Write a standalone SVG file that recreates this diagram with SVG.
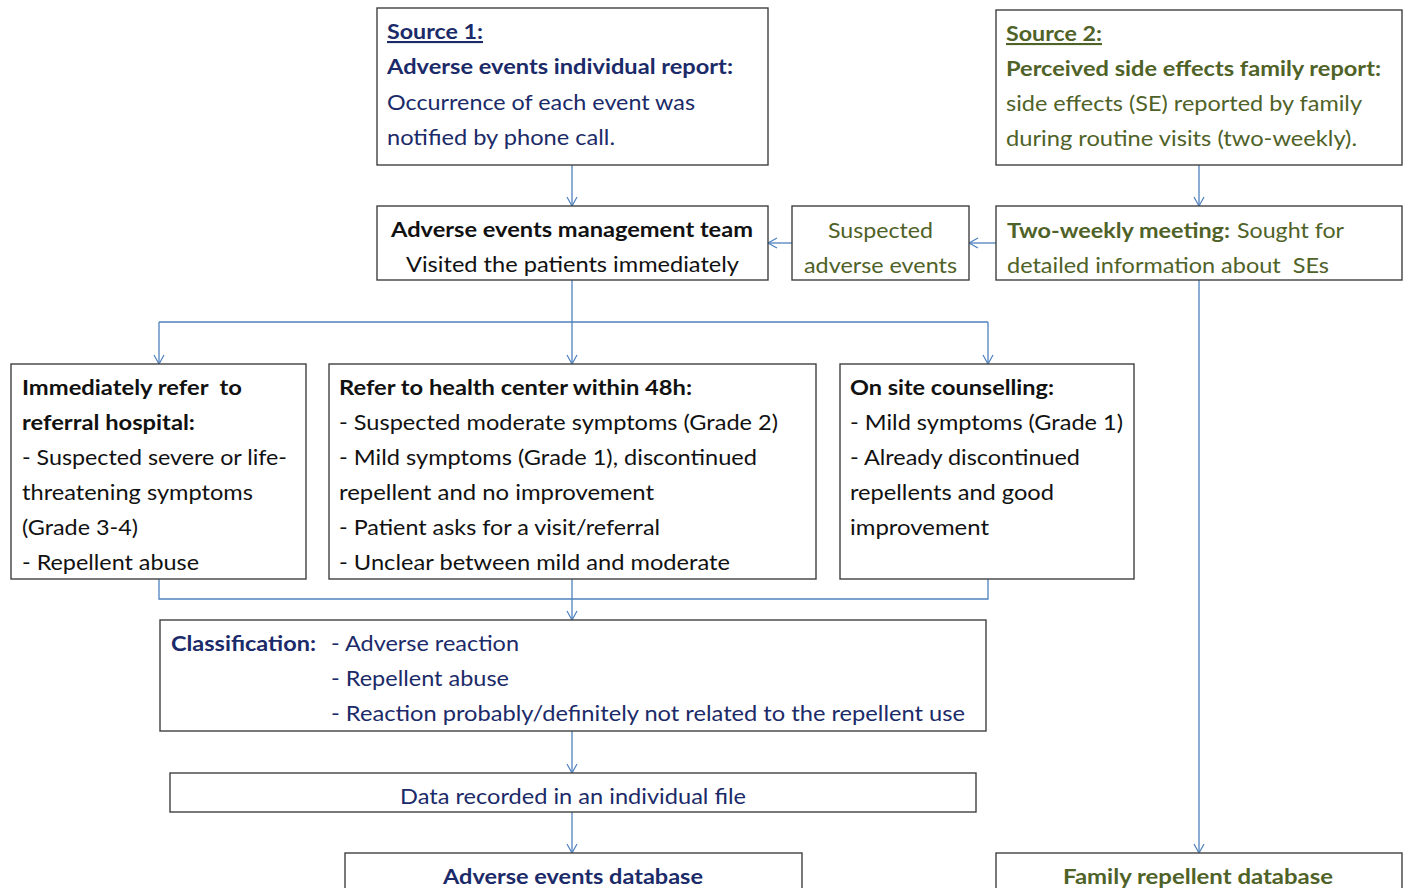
<svg xmlns="http://www.w3.org/2000/svg" width="1406" height="888" viewBox="0 0 1406 888">
<style>
.box{fill:#fff;stroke:#404040;stroke-width:1.4}
.t{font-family:Lato,"Open Sans","Liberation Sans",sans-serif;font-size:21px;white-space:pre}
.b{font-weight:bold}
.navy{fill:#1b2a68}
.green{fill:#4f6228}
.blk{fill:#111}
.c{fill:none;stroke:#4f81bd;stroke-width:1.3}
.u{text-decoration:underline}
</style>
<defs>
<marker id="arr" markerUnits="userSpaceOnUse" markerWidth="14" markerHeight="14" refX="10" refY="6" orient="auto">
<path d="M1,1 L10,6 L1,11" fill="none" stroke="#4f81bd" stroke-width="1.2"/>
</marker>
</defs>
<rect width="1406" height="888" fill="#fff"/>

<g id="connectors">
<line class="c" x1="572" y1="165" x2="572" y2="206" marker-end="url(#arr)"/>
<line class="c" x1="1199" y1="165" x2="1199" y2="206" marker-end="url(#arr)"/>
<line class="c" x1="996" y1="243" x2="969" y2="243" marker-end="url(#arr)"/>
<line class="c" x1="792" y1="243" x2="768" y2="243" marker-end="url(#arr)"/>
<line class="c" x1="572" y1="280" x2="572" y2="322"/>
<line class="c" x1="159" y1="322" x2="988" y2="322"/>
<line class="c" x1="159" y1="322" x2="159" y2="364" marker-end="url(#arr)"/>
<line class="c" x1="572" y1="322" x2="572" y2="364" marker-end="url(#arr)"/>
<line class="c" x1="988" y1="322" x2="988" y2="364" marker-end="url(#arr)"/>
<polyline class="c" points="159,579 159,599 988,599 988,579"/>
<line class="c" x1="572" y1="579" x2="572" y2="620" marker-end="url(#arr)"/>
<line class="c" x1="572" y1="731" x2="572" y2="773" marker-end="url(#arr)"/>
<line class="c" x1="572" y1="812" x2="572" y2="853" marker-end="url(#arr)"/>
<line class="c" x1="1199" y1="280" x2="1199" y2="853" marker-end="url(#arr)"/>
</g>

<g id="source1">
<rect class="box" x="377" y="8" width="391" height="157"/>
<text class="t b navy u" x="387" y="39" textLength="96" lengthAdjust="spacingAndGlyphs">Source 1:</text>
<text class="t b navy" x="387" y="74" textLength="346" lengthAdjust="spacingAndGlyphs">Adverse events individual report:</text>
<text class="t navy" x="387" y="110" textLength="308" lengthAdjust="spacingAndGlyphs">Occurrence of each event was</text>
<text class="t navy" x="387" y="145" textLength="228" lengthAdjust="spacingAndGlyphs">notified by phone call.</text>
</g>

<g id="source2">
<rect class="box" x="996" y="10" width="406" height="155"/>
<text class="t b green u" x="1006" y="41" textLength="96" lengthAdjust="spacingAndGlyphs">Source 2:</text>
<text class="t b green" x="1006" y="76" textLength="375" lengthAdjust="spacingAndGlyphs">Perceived side effects family report:</text>
<text class="t green" x="1006" y="111" textLength="356" lengthAdjust="spacingAndGlyphs">side effects (SE) reported by family</text>
<text class="t green" x="1006" y="146" textLength="351" lengthAdjust="spacingAndGlyphs">during routine visits (two-weekly).</text>
</g>

<g id="ae-team">
<rect class="box" x="377" y="206" width="391" height="74"/>
<text class="t b blk" x="391" y="237" textLength="362" lengthAdjust="spacingAndGlyphs">Adverse events management team</text>
<text class="t blk" x="406" y="272" textLength="333" lengthAdjust="spacingAndGlyphs">Visited the patients immediately</text>
</g>

<g id="suspected">
<rect class="box" x="792" y="206" width="177" height="74"/>
<text class="t green" x="828" y="238" textLength="105" lengthAdjust="spacingAndGlyphs">Suspected</text>
<text class="t green" x="804" y="273" textLength="153" lengthAdjust="spacingAndGlyphs">adverse events</text>
</g>

<g id="two-weekly">
<rect class="box" x="996" y="206" width="406" height="74"/>
<text class="t b green" x="1007" y="238" textLength="223" lengthAdjust="spacingAndGlyphs">Two-weekly meeting:</text>
<text class="t green" x="1237" y="238" textLength="107" lengthAdjust="spacingAndGlyphs">Sought for</text>
<text class="t green" x="1007" y="273" textLength="322" lengthAdjust="spacingAndGlyphs" xml:space="preserve">detailed information about  SEs</text>
</g>

<g id="refer-hospital">
<rect class="box" x="11" y="364" width="295" height="215"/>
<text class="t b blk" x="22" y="395" textLength="220" lengthAdjust="spacingAndGlyphs" xml:space="preserve">Immediately refer  to</text>
<text class="t b blk" x="22" y="430" textLength="173" lengthAdjust="spacingAndGlyphs">referral hospital:</text>
<text class="t blk" x="22" y="465" textLength="265" lengthAdjust="spacingAndGlyphs">- Suspected severe or life-</text>
<text class="t blk" x="22" y="500" textLength="231" lengthAdjust="spacingAndGlyphs">threatening symptoms</text>
<text class="t blk" x="22" y="535" textLength="116" lengthAdjust="spacingAndGlyphs">(Grade 3-4)</text>
<text class="t blk" x="22" y="570" textLength="177" lengthAdjust="spacingAndGlyphs">- Repellent abuse</text>
</g>

<g id="refer-health-center">
<rect class="box" x="329" y="364" width="487" height="215"/>
<text class="t b blk" x="339" y="395" textLength="353" lengthAdjust="spacingAndGlyphs">Refer to health center within 48h:</text>
<text class="t blk" x="339" y="430" textLength="439" lengthAdjust="spacingAndGlyphs">- Suspected moderate symptoms (Grade 2)</text>
<text class="t blk" x="339" y="465" textLength="418" lengthAdjust="spacingAndGlyphs">- Mild symptoms (Grade 1), discontinued</text>
<text class="t blk" x="339" y="500" textLength="315" lengthAdjust="spacingAndGlyphs">repellent and no improvement</text>
<text class="t blk" x="339" y="535" textLength="321" lengthAdjust="spacingAndGlyphs">- Patient asks for a visit/referral</text>
<text class="t blk" x="339" y="570" textLength="391" lengthAdjust="spacingAndGlyphs">- Unclear between mild and moderate</text>
</g>

<g id="on-site">
<rect class="box" x="840" y="364" width="294" height="215"/>
<text class="t b blk" x="850" y="395" textLength="204" lengthAdjust="spacingAndGlyphs">On site counselling:</text>
<text class="t blk" x="850" y="430" textLength="273" lengthAdjust="spacingAndGlyphs">- Mild symptoms (Grade 1)</text>
<text class="t blk" x="850" y="465" textLength="230" lengthAdjust="spacingAndGlyphs">- Already discontinued</text>
<text class="t blk" x="850" y="500" textLength="204" lengthAdjust="spacingAndGlyphs">repellents and good</text>
<text class="t blk" x="850" y="535" textLength="139" lengthAdjust="spacingAndGlyphs">improvement</text>
</g>

<g id="classification">
<rect class="box" x="160" y="620" width="826" height="111"/>
<text class="t b navy" x="171" y="651" textLength="145" lengthAdjust="spacingAndGlyphs">Classification:</text>
<text class="t navy" x="331" y="651" textLength="188" lengthAdjust="spacingAndGlyphs">- Adverse reaction</text>
<text class="t navy" x="331" y="686" textLength="178" lengthAdjust="spacingAndGlyphs">- Repellent abuse</text>
<text class="t navy" x="331" y="721" textLength="634" lengthAdjust="spacingAndGlyphs">- Reaction probably/definitely not related to the repellent use</text>
</g>

<g id="data-recorded">
<rect class="box" x="170" y="773" width="806" height="39"/>
<text class="t navy" x="400" y="804" textLength="346" lengthAdjust="spacingAndGlyphs">Data recorded in an individual file</text>
</g>

<g id="ae-database">
<rect class="box" x="345" y="853" width="457" height="60"/>
<text class="t b navy" x="443" y="884" textLength="260" lengthAdjust="spacingAndGlyphs">Adverse events database</text>
</g>

<g id="family-database">
<rect class="box" x="996" y="853" width="406" height="60"/>
<text class="t b green" x="1063" y="884" textLength="270" lengthAdjust="spacingAndGlyphs">Family repellent database</text>
</g>
</svg>
